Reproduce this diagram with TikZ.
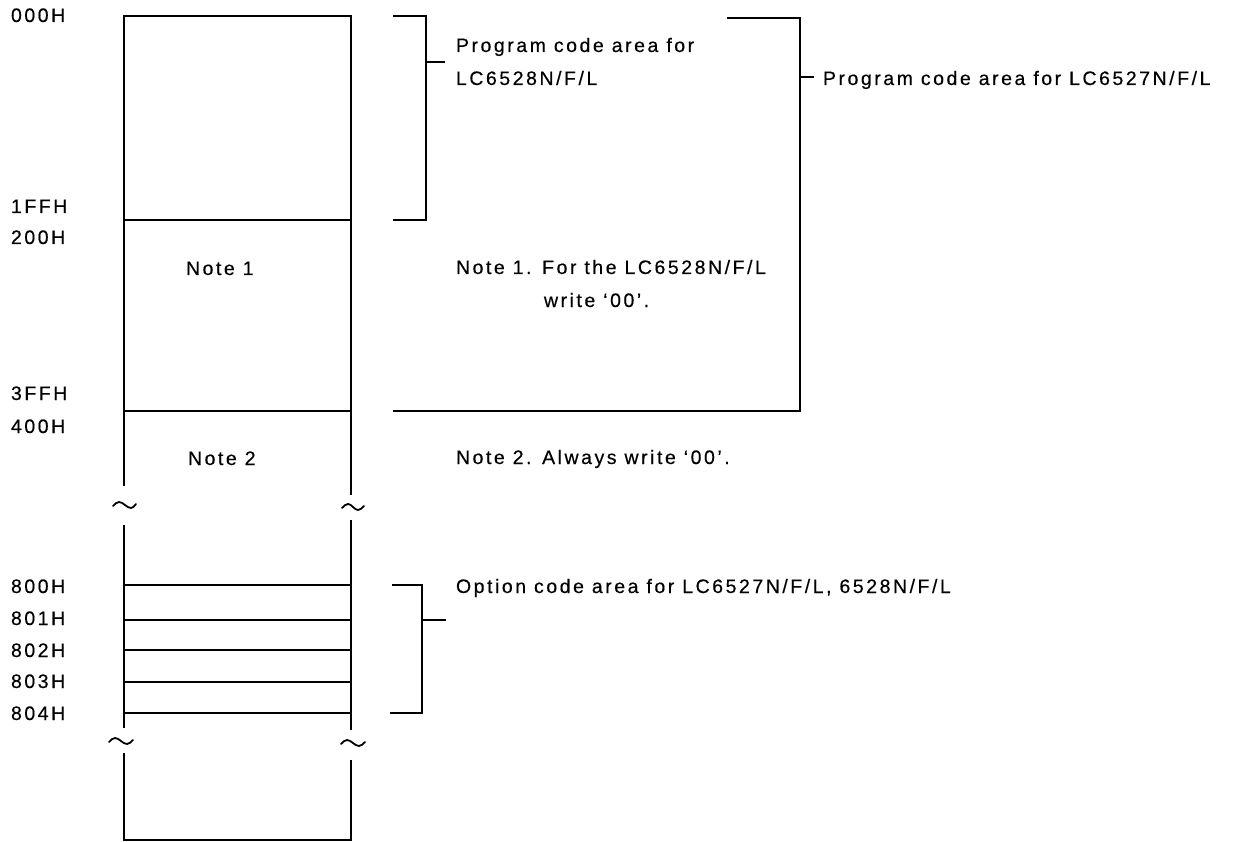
\documentclass[tikz,border=0pt]{standalone}
\usepackage{fontspec}
\setmainfont{Liberation Sans}[LetterSpace=13,FakeBold=0.4]
\begin{document}
\begin{tikzpicture}[x=1pt,y=-1pt,line width=2pt,
  lbl/.style={anchor=base west,inner sep=0pt,font=\fontsize{19.5}{23}\selectfont},
  wall/.style={line width=2.4pt},
  cell/.style={line width=1.8pt},
  brk/.style={line width=2pt},
  wave/.style={line width=1.8pt,line cap=round}]
\useasboundingbox[fill=white] (0,0) rectangle (1239,842);

% address labels
\node[lbl] (a000) at (10,22) {000H};
\node[lbl] (a1ff) at (10,213) {1FFH};
\node[lbl] (a200) at (10,244) {200H};
\node[lbl] (a3ff) at (10,400) {3FFH};
\node[lbl] (a400) at (10,433) {400H};
\node[lbl] (a800) at (10,593) {800H};
\node[lbl] (a801) at (10,625) {801H};
\node[lbl] (a802) at (10,657) {802H};
\node[lbl] (a803) at (10,688) {803H};
\node[lbl] (a804) at (10,720) {804H};

% memory column
\coordinate (tl) at (124,16);
\coordinate (tr) at (351,16);
\coordinate (bl) at (124,840);
\coordinate (br) at (351,840);
\draw[wall] (124,486) -- (tl) -- (tr) -- (351,495);
\draw[wall] (124,525) -- (124,728);
\draw[wall] (351,520) -- (351,730);
\draw[wall] (124,753) -- (bl) -- (br) -- (351,760);

% breaks
\draw[wave] (113,506) sin (119,502) cos (125,505) sin (131,508) cos (136,504);
\draw[wave] (342,508) sin (348,504) cos (353,507) sin (358,510) cos (364,506);
\draw[wave] (109,742) sin (115,738) cos (121,741) sin (127,744) cos (133,740);
\draw[wave] (341,744) sin (347,740) cos (353,743) sin (359,746) cos (365,742);

% cell boundaries
\foreach \yy in {220,411,585,620,650,682,713}
  \draw[cell] (124,\yy) -- (351,\yy);

\node[lbl] (n1) at (185,275) {Note 1};
\node[lbl] (n2) at (187,465) {Note 2};

% bracket 1: LC6528
\coordinate (b1t) at (393,16);
\coordinate (b1b) at (393,220);
\coordinate (b1m) at (426,62);
\draw[brk] (b1t) -- (426,16) -- (426,220) -- (b1b);
\draw[brk] (b1m) -- (445,62);
\node[lbl] (t1a) at (455,52) {Program code area for};
\node[lbl] (t1b) at (455,85) {LC6528N/F/L};

% bracket 2: LC6527
\coordinate (b2t) at (727,18);
\coordinate (b2b) at (393,411);
\coordinate (b2m) at (800,77);
\draw[brk] (b2t) -- (800,18) -- (800,411) -- (b2b);
\draw[brk] (b2m) -- (814,77);
\node[lbl] (t2) at (822,85) {Program code area for LC6527N/F/L};

% notes
\node[lbl] (nt1) at (455,274) {Note 1. For the LC6528N/F/L};
\node[lbl] (nt1b) at (543,307) {write ‘00’.};
\node[lbl] (nt2) at (455,464) {Note 2. Always write ‘00’.};

% bracket 3: option code
\coordinate (b3t) at (392,585);
\coordinate (b3b) at (390,713);
\coordinate (b3m) at (422,620);
\draw[brk] (b3t) -- (422,585) -- (422,713) -- (b3b);
\draw[brk] (b3m) -- (446,620);
\node[lbl] (t3) at (455,593) {Option code area for LC6527N/F/L, 6528N/F/L};
\end{tikzpicture}
\end{document}
